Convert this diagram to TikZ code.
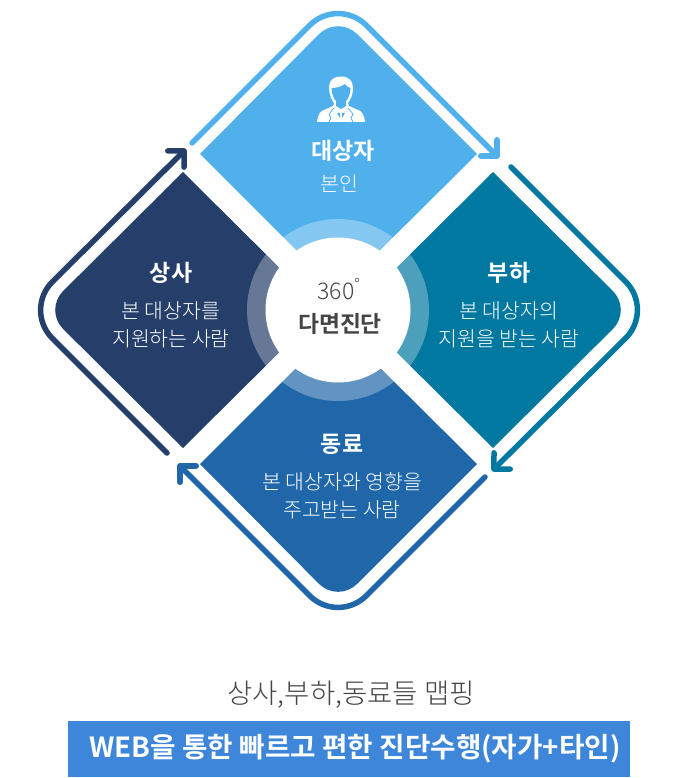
\documentclass[tikz,border=0pt]{standalone}
\usepackage{fontspec}
\setmainfont{Noto Sans CJK KR Light}[BoldFont={Noto Sans CJK KR Bold}]
\usetikzlibrary{arrows.meta}

\definecolor{topblue}{HTML}{50B0EC}
\definecolor{rightteal}{HTML}{00789F}
\definecolor{leftnavy}{HTML}{263F6A}
\definecolor{lowblue}{HTML}{1F67A9}
\definecolor{bandblue}{HTML}{3D86D9}
\definecolor{darktext}{HTML}{444444}

\begin{document}
\begin{tikzpicture}[
    x=1pt, y=-1pt,
    petal/.style={fill=#1, rounded corners=27pt},
    loopline/.style={
        draw=#1, line width=5.5pt, line cap=round, rounded corners=40pt,
        -{Straight Barb[length=11.5pt,width=23pt,round]}
    },
    title/.style={text=white, font=\bfseries\fontsize{23}{26}\selectfont},
    body/.style={text=white, align=center, font=\fontsize{20.5}{28}\selectfont}
]
    \useasboundingbox (0,0) rectangle (700,778);

    % petals
    \path [petal=topblue] (200,154) [sharp corners] -- (338,292) -- (477,154) [rounded corners=27pt] -- (338,15) [sharp corners] -- cycle;
    \path [petal=rightteal] (493,172) [sharp corners] -- (354,310) -- (493,448) [rounded corners=27pt] -- (632,310) [sharp corners] -- cycle;
    \path [petal=lowblue] (477,464) [sharp corners] -- (338,326) -- (200,464) [rounded corners=27pt] -- (338,603) [sharp corners] -- cycle;
    \path [petal=leftnavy] (183,448) [sharp corners] -- (322,310) -- (183,172) [rounded corners=27pt] -- (44,310) [sharp corners] -- cycle;

    % centre
    \fill [white, opacity=.3] (338,310) circle (91);
    \node (hub) [circle, fill=white, minimum size=145pt, inner sep=0pt] at (338,310) {};

    % loop arrows
    \coordinate (topa) at (192,143);
    \coordinate (topb) at (499,158);
    \coordinate (rgta) at (511,167);
    \coordinate (rgtb) at (492,471);
    \coordinate (lowa) at (485,477);
    \coordinate (lowb) at (178,464);
    \coordinate (lfta) at (167,453);
    \coordinate (lftb) at (186,149);
    \draw [loopline=topblue] (topa) -- (338,-3) -- (topb);
    \draw [loopline=rightteal] (rgta) -- (654,310) -- (rgtb);
    \draw [loopline=lowblue] (lowa) -- (338,624) -- (lowb);
    \draw [loopline=leftnavy] (lfta) -- (24,310) -- (lftb);

    % person
    \fill [white] (317,122) .. controls (318,114) and (320,111) .. (325,109.5) -- (333,106) -- (334,103) .. controls (331,99) and (329,93) .. (329,87)
        .. controls (329,80) and (334,76.5) .. (341,76.5) .. controls (349,76.5) and (353,81) .. (353,88) .. controls (353,94) and (351,99) .. (348,103)
        -- (349,106) -- (357,109.5) .. controls (362,111) and (364,114) .. (365,122) -- cycle;
    \fill [topblue] (331.5,88) .. controls (336,88) and (341,87) .. (345,84) .. controls (346,86) and (348,87.5) .. (350.5,88)
        .. controls (350.5,94) and (348,99) .. (346,101) -- (346,106) -- (341,109) -- (336,106) -- (336,101) .. controls (334,99) and (331.5,94) .. (331.5,88) -- cycle;
    \draw [topblue, line width=.7pt] (334,108) -- (329,114) -- (331,118) -- (329,122);
    \draw [topblue, line width=.7pt] (348,108) -- (353,114) -- (351,118) -- (353,122);
    \fill [topblue] (337,113) -- (340,113) -- (340,118) -- cycle (342,113) -- (345,113) -- (342,118) -- cycle;

    % labels
    \node (selfhead) [title] at (343,151) {대상자};
    \node (selfbody) [body] at (339,184) {본인};
    \node (bosshead) [title] at (171,273) {상사};
    \node (bossbody) [body] at (171,325) {본 대상자를\\지원하는 사람};
    \node (subhead) [title] at (509,273) {부하};
    \node (subbody) [body] at (509,325) {본 대상자의\\지원을 받는 사람};
    \node (peerhead) [title] at (342,444) {동료};
    \node (peerbody) [body] at (342,496) {본 대상자와 영향을\\주고받는 사람};
    \node (deg) [text=darktext, font=\fontsize{23}{24}\selectfont] at (339,289) {360\textsuperscript{°}};
    \node (multi) [text=darktext, font=\bfseries\fontsize{22.8}{24}\selectfont] at (340,324) {다면진단};

    % bottom lines
    \node (mapping) [text=darktext, font=\fontsize{27.5}{30}\selectfont] at (351,695) {상사,부하,동료들 맵핑};
    \node (band) [fill=bandblue, minimum width=562pt, minimum height=56pt, inner sep=0pt] at (349,749) {};
    \node (bandtext) [text=white, font=\bfseries\fontsize{27.7}{30}\selectfont] at (355,749) {WEB을 통한 빠르고 편한 진단수행(자가+타인)};
\end{tikzpicture}
\end{document}
